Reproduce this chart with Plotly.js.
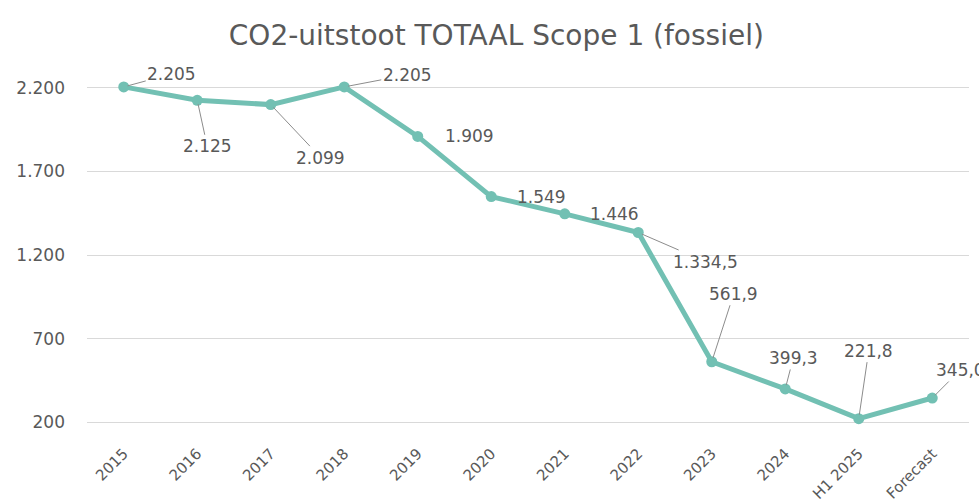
<!DOCTYPE html>
<html>
<head>
<meta charset="utf-8">
<script src="https://cdn.plot.ly/plotly-3.0.1.min.js"></script>
<style>html,body{margin:0;padding:0;background:#fff;}#chart{width:979px;height:504px;}</style>
</head>
<body>
<div id="chart"></div>
<script>
// ---- data ----
const categories = ["2015","2016","2017","2018","2019","2020","2021","2022","2023","2024","H1 2025","Forecast"];
const emissions = [2205, 2125, 2099, 2205, 1909, 1549, 1446, 1334.5, 561.9, 399.3, 221.8, 345.0];
const labelDecimals = [0, 0, 0, 0, 0, 0, 0, 1, 1, 1, 1, 1];
const yTickStart = 200;
const yTickStep = 500;

// ---- label layout (pixel offsets of each data label from its point) ----
const labelDx = [48, 10, 50, 63, 52, 50, 50, 67, 22, 8, 10, 28];
const labelDy = [-13, 46, 53, -12, 0, 0, 0, 29, -68, -31, -68, -28];
const labelLeader = [true, true, true, true, false, false, false, true, true, true, true, true];

function fmtNL(v, d) {
  const s = v.toFixed(d);
  let [ip, fp] = s.split(".");
  ip = ip.replace(/\B(?=(\d{3})+(?!\d))/g, ".");
  return fp ? ip + "," + fp : ip;
}

const teal = "#72c0b3";
const gray = "#595959";
const font = "DejaVu Sans, Verdana, sans-serif";

const annotations = categories.map((c, i) => {
  const a = {
    x: i, y: emissions[i], xref: "x", yref: "y",
    text: fmtNL(emissions[i], labelDecimals[i]),
    font: {family: font, size: 17, color: gray},
    showarrow: labelLeader[i]
  };
  if (labelLeader[i]) {
    Object.assign(a, {ax: labelDx[i], ay: labelDy[i], axref: "pixel", ayref: "pixel",
      arrowhead: 0, arrowwidth: 1, arrowcolor: "#8c8c8c", standoff: 4, startstandoff: 0});
  } else {
    Object.assign(a, {xshift: labelDx[i], yshift: -labelDy[i]});
  }
  return a;
});

const trace = {
  x: categories, y: emissions, type: "scatter", mode: "lines+markers",
  line: {color: teal, width: 5},
  marker: {color: teal, size: 11},
  cliponaxis: false, hoverinfo: "skip"
};

const layout = {
  width: 979, height: 504,
  margin: {l: 87, r: 10, t: 71, b: 65},
  paper_bgcolor: "#ffffff", plot_bgcolor: "#ffffff",
  separators: ",.",
  showlegend: false,
  title: {text: "CO2-uitstoot TOTAAL Scope 1 (fossiel)", x: 0.507, xanchor: "center", y: 0.93, yanchor: "middle",
          font: {family: font, size: 28, color: gray}},
  xaxis: {type: "category", range: [-0.5, 11.5], showgrid: false, zeroline: false, showline: false,
          tickangle: -45, tickfont: {family: font, size: 15, color: gray}, ticks: "", ticklabelstandoff: 2},
  yaxis: {range: [100, 2300], tick0: yTickStart, dtick: yTickStep, tickmode: "linear",
          tickformat: ",.0f", separatethousands: true,
          showgrid: true, gridcolor: "#d9d9d9", gridwidth: 1, zeroline: false, showline: false,
          tickfont: {family: font, size: 17, color: gray}, ticks: "", ticklabelstandoff: 21},
  annotations: annotations
};

Plotly.newPlot("chart", [trace], layout, {staticPlot: true, displayModeBar: false});
</script>
</body>
</html>
